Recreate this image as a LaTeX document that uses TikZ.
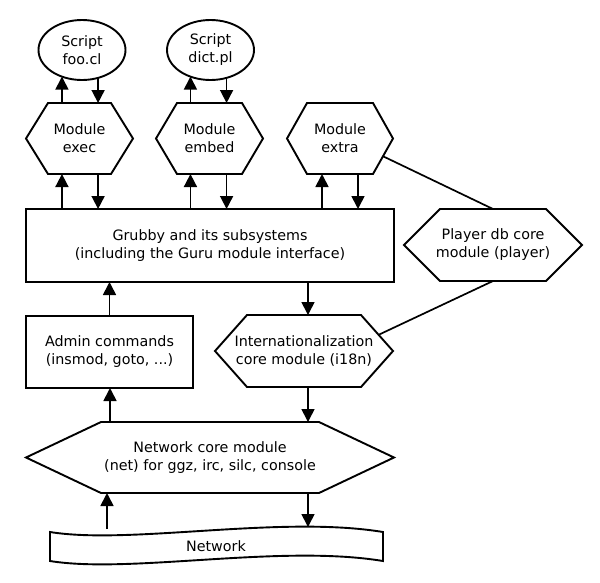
\documentclass[tikz,border=0pt]{standalone}
\usepackage{fontspec}
\setmainfont{DejaVu Sans}
\usetikzlibrary{arrows.meta,calc,shapes.geometric}
\tikzset{
  lbl/.style={inner sep=0pt, outer sep=0pt, align=center, font=\fontsize{14.3}{18}\selectfont},
  boxnode/.style={lbl, draw, line width=1.9pt, rectangle, minimum width=#1},
  hexnode/.style={lbl, rectangle, minimum width=#1},
  ellnode/.style={lbl, draw, line width=1.9pt, ellipse, minimum width=87pt, minimum height=60pt},
  outline/.style={line width=1.9pt, line join=miter},
  arr/.style={line width=1.7pt, -{Triangle[width=13pt,length=13pt]}},
  plain/.style={line width=1.7pt}
}
\newcommand\hexpath[2]{\draw[outline] (#1.west) -- ([xshift=#2]#1.north west) -- ([xshift=-#2]#1.north east) -- (#1.east) -- ([xshift=-#2]#1.south east) -- ([xshift=#2]#1.south west) -- cycle;}
\begin{document}
\begin{tikzpicture}[x=1pt,y=-1pt]
\useasboundingbox (0,0) rectangle (600,582);
% ellipses
\node[ellnode] (foo) at (82,50) {Script\\foo.cl};
\node[ellnode] (dict) at (210.5,50) {Script\\dict.pl};
% module hexagons
\node[hexnode=107pt, minimum height=71pt] (exec) at (79.5,138.5) {Module\\exec};
\hexpath{exec}{22pt}
\node[hexnode=107pt, minimum height=71pt] (embed) at (209.5,138.5) {Module\\embed};
\hexpath{embed}{21pt}
\node[hexnode=106pt, minimum height=71pt] (extra) at (340,138.5) {Module\\extra};
\hexpath{extra}{20pt}
% grubby
\node[boxnode=368pt, minimum height=73pt] (grubby) at (210,245.5) {Grubby and its subsystems\\(including the Guru module interface)};
% player
\node[hexnode=178pt, minimum height=72pt] (player) at (493,245) {Player db core\\module (player)};
\hexpath{player}{36pt}
% admin
\node[boxnode=167pt, minimum height=72pt] (admin) at (109.5,352) {Admin commands\\(insmod, goto, ...)};
% i18n
\node[hexnode=178pt, minimum height=72pt] (i18n) at (304,351) {Internationalization\\core module (i18n)};
\hexpath{i18n}{32pt}
% network core
\node[hexnode=368pt, minimum height=71pt] (net) at (210,457.5) {Network core module\\(net) for ggz, irc, silc, console};
\hexpath{net}{75pt}
% network tape
\draw[outline] (50,532) .. controls (130,545) and (280,515) .. (383,532) -- (383,561) .. controls (280,544) and (130,574) .. (50,561) -- cycle;
\node[lbl] (tape) at (216,546) {Network};
\coordinate (tapein) at (107,529);
\coordinate (tapeout) at (308,527);
% coordinates for extra / i18n arrows
\coordinate (xl) at ([xshift=-18pt]extra.north);
\coordinate (xr) at ([xshift=18pt]extra.north);
\coordinate (gi) at ([xshift=4pt]i18n.north);
\coordinate (na) at ([xshift=0.5pt]admin.south);
% script <-> module
\draw[arr] (exec.north -| foo.233) -- (foo.233);
\draw[arr] (foo.300) -- (exec.north -| foo.300);
\draw[arr] (embed.north -| dict.233) -- (dict.233);
\draw[arr] (dict.300) -- (embed.north -| dict.300);
% module <-> grubby
\draw[arr] (grubby.north -| foo.233) -- (exec.south -| foo.233);
\draw[arr] (exec.south -| foo.300) -- (grubby.north -| foo.300);
\draw[arr] (grubby.north -| dict.233) -- (embed.south -| dict.233);
\draw[arr] (embed.south -| dict.300) -- (grubby.north -| dict.300);
\draw[arr] (grubby.north -| xl) -- (extra.south -| xl);
\draw[arr] (extra.south -| xr) -- (grubby.north -| xr);
% player links
\draw[plain] ($(extra.east)!0.5!([xshift=-20pt]extra.south east)$) -- (player.north);
\draw[plain] (player.south) -- ($(i18n.east)!0.45!([xshift=-32pt]i18n.north east)$);
% grubby, admin, i18n, net
\draw[arr] (grubby.south -| gi) -- (gi);
\draw[arr] (admin.north) -- (grubby.south -| admin.north);
\draw[arr] (i18n.south -| gi) -- (net.north -| gi);
\draw[arr] (net.north -| na) -- (na);
\draw[arr] (tapein) -- (net.south -| tapein);
\draw[arr] (net.south -| tapeout) -- (tapeout);
\end{tikzpicture}
\end{document}
